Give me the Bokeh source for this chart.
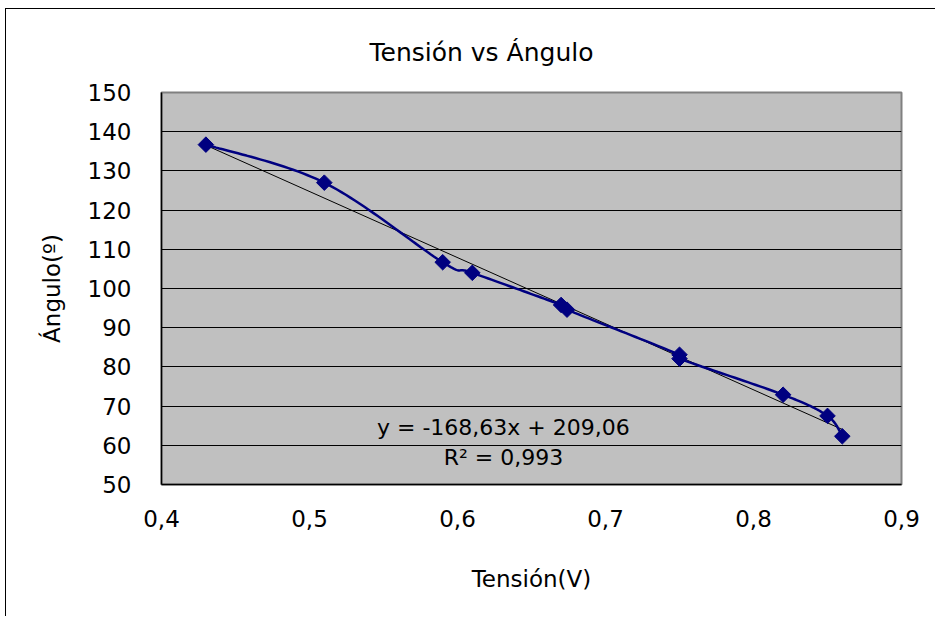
import numpy as np
from bokeh.plotting import figure
from bokeh.models import ColumnDataSource, Label, FixedTicker, CustomJSTickFormatter
from bokeh.embed import file_html
from bokeh.resources import INLINE

# Data
tension = [0.43, 0.51, 0.59, 0.61, 0.67, 0.674, 0.75, 0.75, 0.82, 0.85, 0.86]
angulo = [136.7, 127.0, 106.7, 104.0, 95.8, 94.6, 83.1, 82.1, 72.9, 67.5, 62.3]
trend_slope = -168.63
trend_intercept = 209.06
title_text = "Tensión vs Ángulo"
trend_text = "y = -168,63x + 209,06"
r2_text = "R² = 0,993"
x_ticks = [0.4, 0.5, 0.6, 0.7, 0.8, 0.9]
y_ticks = [50, 60, 70, 80, 90, 100, 110, 120, 130, 140, 150]

FONT = "DejaVu Sans"

# Smoothed line (Excel-like Bezier smoothing, Catmull-Rom style)
def smooth(xs, ys, n=30):
    P = np.column_stack([xs, ys]).astype(float)
    out = []
    m = len(P)
    for i in range(m - 1):
        p0 = P[i - 1] if i > 0 else P[i]
        p1 = P[i]
        p2 = P[i + 1]
        p3 = P[i + 2] if i + 2 < m else P[i + 1]
        c1 = p1 + (p2 - p0) / 6.0
        c2 = p2 - (p3 - p1) / 6.0
        t = np.linspace(0, 1, n)[:, None]
        seg = ((1 - t) ** 3) * p1 + 3 * ((1 - t) ** 2) * t * c1 + 3 * (1 - t) * t ** 2 * c2 + t ** 3 * p2
        out.append(seg if i == 0 else seg[1:])
    S = np.vstack(out)
    return S[:, 0], S[:, 1]

sx, sy = smooth(tension, angulo)

p = figure(width=930, height=608, x_range=(0.4, 0.9), y_range=(50, 150),
           output_backend="svg", toolbar_location=None,
           min_border_left=155, min_border_right=35, min_border_top=83, min_border_bottom=133)
p.margin = (8, 0, 0, 5)
p.styles = {"border-left": "1px solid black", "border-top": "1px solid black"}

p.background_fill_color = "#C0C0C0"
p.border_fill_color = "white"
p.outline_line_color = "#808080"
p.outline_line_width = 2

p.title.text = title_text
p.title.align = "left"
p.title.offset = 208
p.title.standoff = 52
p.title.text_font = FONT
p.title.text_font_size = "25px"
p.title.text_font_style = "normal"
p.title.text_color = "black"

p.xgrid.visible = False
p.ygrid.grid_line_color = "black"
p.ygrid.grid_line_width = 1.2
p.ygrid.ticker = FixedTicker(ticks=y_ticks)

p.xaxis.ticker = FixedTicker(ticks=x_ticks)
p.yaxis.ticker = FixedTicker(ticks=y_ticks)
p.xaxis.formatter = CustomJSTickFormatter(code="return tick.toFixed(1).replace('.', ',');")
for ax in (p.xaxis, p.yaxis):
    ax.axis_line_color = "black"
    ax.axis_line_width = 1.5
    ax.major_tick_line_color = None
    ax.minor_tick_line_color = None
    ax.major_label_text_font = FONT
    ax.major_label_text_font_size = "23px"
    ax.major_label_text_color = "black"
    ax.axis_label_text_font = FONT
    ax.axis_label_text_font_size = "23px"
    ax.axis_label_text_font_style = "normal"
    ax.axis_label_text_color = "black"

p.xaxis.axis_label = "Tensión(V)"
p.yaxis.axis_label = "Ángulo(º)"
p.xaxis.major_label_standoff = 19
p.yaxis.major_label_standoff = 24
p.xaxis.axis_label_standoff = 36
p.yaxis.axis_label_standoff = 20

# Trendline
tx = np.array([min(tension), max(tension)])
ty = trend_slope * tx + trend_intercept
p.line(tx, ty, line_color="black", line_width=1)

# Smoothed series and markers
p.line(sx, sy, line_color="#000080", line_width=2.5)
src = ColumnDataSource(dict(x=tension, y=angulo))
p.scatter("x", "y", source=src, marker="square", angle=np.pi / 4, size=11,
          fill_color="#000080", line_color="#000080")

p.add_layout(Label(x=0.631, y=64.5, text=trend_text, text_align="center", text_baseline="middle",
                   text_font=FONT, text_font_size="22px", text_color="black"))
p.add_layout(Label(x=0.631, y=56.9, text=r2_text, text_align="center", text_baseline="middle",
                   text_font=FONT, text_font_size="22px", text_color="black"))

open("out.html", "w").write(file_html(p, INLINE))
